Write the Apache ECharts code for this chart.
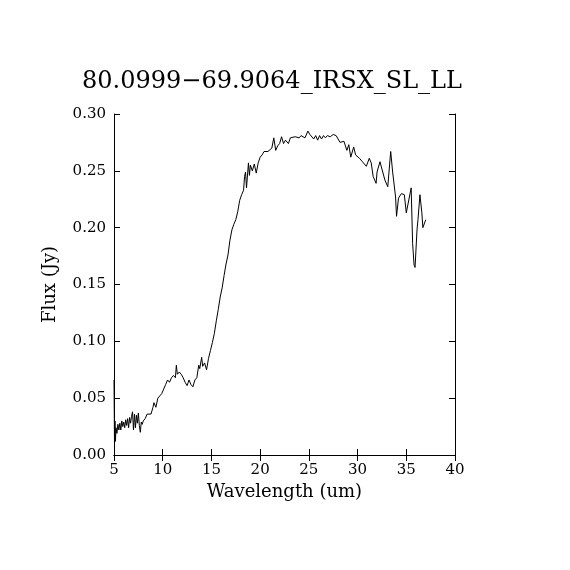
<!DOCTYPE html>
<html>
<head>
<meta charset="utf-8">
<script src="https://cdn.jsdelivr.net/npm/echarts@6/dist/echarts.min.js"></script>
<style>
  html, body { margin: 0; padding: 0; background: #fff; }
  #chart { width: 570px; height: 570px; }
</style>
</head>
<body>
<div id="chart"></div>
<script>
// spectrum
var wavelength = [
  5.0, 5.05, 5.1, 5.15, 5.2, 5.3, 5.4, 5.5, 5.6, 5.7, 5.8, 5.9, 6.0, 6.1, 6.2, 6.3, 6.4, 6.5, 6.6, 6.7,
  6.8, 6.9, 7.0, 7.1, 7.2, 7.3, 7.4, 7.5, 7.6, 7.7, 7.8, 7.9, 8.0, 8.2, 8.4, 8.5, 8.6, 8.8, 9.0, 9.1,
  9.3, 9.5, 9.7, 9.9, 10.1, 10.3, 10.5, 10.7, 10.9, 11.1, 11.3, 11.4, 11.5, 11.7, 11.9, 12.1, 12.3, 12.5, 12.7, 12.9,
  13.1, 13.3, 13.5, 13.7, 13.8, 14.0, 14.1, 14.3, 14.5, 14.7, 14.9, 15.1, 15.3, 15.5, 15.7, 15.9, 16.1, 16.3, 16.5, 16.7,
  16.9, 17.1, 17.3, 17.5, 17.7, 17.9, 18.1, 18.3, 18.4, 18.5, 18.6, 18.8, 18.9, 19.0, 19.2, 19.4, 19.6, 19.8, 20.0, 20.2,
  20.4, 20.6, 20.8, 21.0, 21.2, 21.4, 21.6, 21.8, 22.0, 22.2, 22.4, 22.6, 22.9, 23.1, 23.3, 23.6, 23.8, 24.0, 24.2, 24.4,
  24.6, 24.9, 25.1, 25.3, 25.5, 25.7, 25.9, 26.1, 26.3, 26.5, 26.7, 26.9, 27.2, 27.5, 27.8, 28.0, 28.2, 28.4, 28.6, 28.9,
  29.1, 29.3, 29.6, 29.8, 30.0, 30.2, 30.5, 30.9, 31.2, 31.4, 31.6, 31.9, 32.0, 32.3, 32.5, 32.8, 33.1, 33.4, 33.6, 33.9,
  34.0, 34.2, 34.5, 34.8, 35.0, 35.2, 35.5, 35.65, 35.8, 35.9, 36.1, 36.2, 36.4, 36.6, 36.7, 37.0
];
var flux = [
  0.066, 0.010, 0.030, 0.012, 0.024, 0.019, 0.027, 0.022, 0.028, 0.022, 0.030, 0.025, 0.029, 0.024, 0.031, 0.026, 0.032, 0.024, 0.033, 0.028,
  0.034, 0.038, 0.022, 0.036, 0.024, 0.035, 0.028, 0.037, 0.026, 0.020, 0.029, 0.027, 0.030, 0.032, 0.036, 0.035, 0.037, 0.036, 0.042, 0.046,
  0.042, 0.050, 0.052, 0.054, 0.058, 0.062, 0.066, 0.064, 0.068, 0.070, 0.068, 0.079, 0.071, 0.073, 0.071, 0.068, 0.064, 0.061, 0.066, 0.062,
  0.060, 0.066, 0.068, 0.079, 0.076, 0.086, 0.078, 0.081, 0.075, 0.085, 0.092, 0.099, 0.107, 0.118, 0.128, 0.139, 0.147, 0.158, 0.168, 0.176,
  0.189, 0.198, 0.203, 0.207, 0.214, 0.224, 0.229, 0.233, 0.245, 0.249, 0.235, 0.257, 0.246, 0.255, 0.250, 0.256, 0.248, 0.257, 0.262, 0.264,
  0.267, 0.266, 0.267, 0.266, 0.270, 0.279, 0.268, 0.272, 0.274, 0.280, 0.274, 0.277, 0.274, 0.279, 0.278, 0.280, 0.281, 0.279, 0.281, 0.282,
  0.279, 0.285, 0.282, 0.283, 0.278, 0.281, 0.277, 0.281, 0.278, 0.281, 0.279, 0.281, 0.280, 0.282, 0.281, 0.280, 0.275, 0.274, 0.276, 0.268,
  0.273, 0.262, 0.271, 0.264, 0.263, 0.261, 0.258, 0.254, 0.261, 0.257, 0.245, 0.239, 0.249, 0.258, 0.257, 0.242, 0.236, 0.267, 0.249, 0.227,
  0.210, 0.226, 0.230, 0.229, 0.213, 0.213, 0.235, 0.186, 0.167, 0.165, 0.198, 0.207, 0.229, 0.213, 0.200, 0.207
];
var xTicks = [5, 10, 15, 20, 25, 30, 35, 40];
var yTicks = [0, 0.05, 0.10, 0.15, 0.20, 0.25, 0.30];

var titleText = '80.0999\u221269.9064_IRSX_SL_LL';
var fontFam = '"DejaVu Serif", "Liberation Serif", serif';

var chart = echarts.init(document.getElementById('chart'), null, {renderer: 'canvas'});

var tickStyle = {show: true, inside: true, length: 6, lineStyle: {color: '#000', width: 1}};
var lineStyle = {show: true, lineStyle: {color: '#000', width: 1}};

var option = {
  backgroundColor: '#fff',
  animation: false,
  graphic: [{
    type: 'text',
    x: 272, y: 82,
    style: {text: titleText, font: '24px ' + fontFam, fill: '#000', textAlign: 'center', textVerticalAlign: 'middle'}
  }],
  grid: {left: 114, top: 114, width: 341, height: 341},
  xAxis: [{
    type: 'value', min: xTicks[0], max: xTicks[xTicks.length - 1], interval: 5,
    name: 'Wavelength (um)', nameLocation: 'middle', nameGap: 28,
    nameTextStyle: {color: '#000', fontSize: 18, fontFamily: fontFam},
    axisLine: lineStyle, axisTick: tickStyle, splitLine: {show: false},
    axisLabel: {color: '#000', fontSize: 15, fontFamily: fontFam, margin: 8}
  }, {
    type: 'value', position: 'top', min: xTicks[0], max: xTicks[xTicks.length - 1], interval: 5,
    axisLine: lineStyle, axisTick: tickStyle, splitLine: {show: false}, axisLabel: {show: false}
  }],
  yAxis: [{
    type: 'value', min: yTicks[0], max: yTicks[yTicks.length - 1], interval: 0.05,
    name: 'Flux (Jy)', nameLocation: 'middle', nameGap: 55, nameRotate: 90,
    nameTextStyle: {color: '#000', fontSize: 18, fontFamily: fontFam},
    axisLine: lineStyle, axisTick: tickStyle, splitLine: {show: false},
    axisLabel: {color: '#000', fontSize: 15, fontFamily: fontFam, margin: 8,
      formatter: function (v) { return v.toFixed(2); }}
  }, {
    type: 'value', position: 'right', min: yTicks[0], max: yTicks[yTicks.length - 1], interval: 0.05,
    axisLine: lineStyle, axisTick: tickStyle, splitLine: {show: false}, axisLabel: {show: false}
  }],
  series: [{
    type: 'line',
    data: wavelength.map(function (w, i) { return [w, flux[i]]; }),
    showSymbol: false,
    lineStyle: {color: '#000', width: 1},
    silent: true
  }]
};
chart.setOption(option);
</script>
</body>
</html>
